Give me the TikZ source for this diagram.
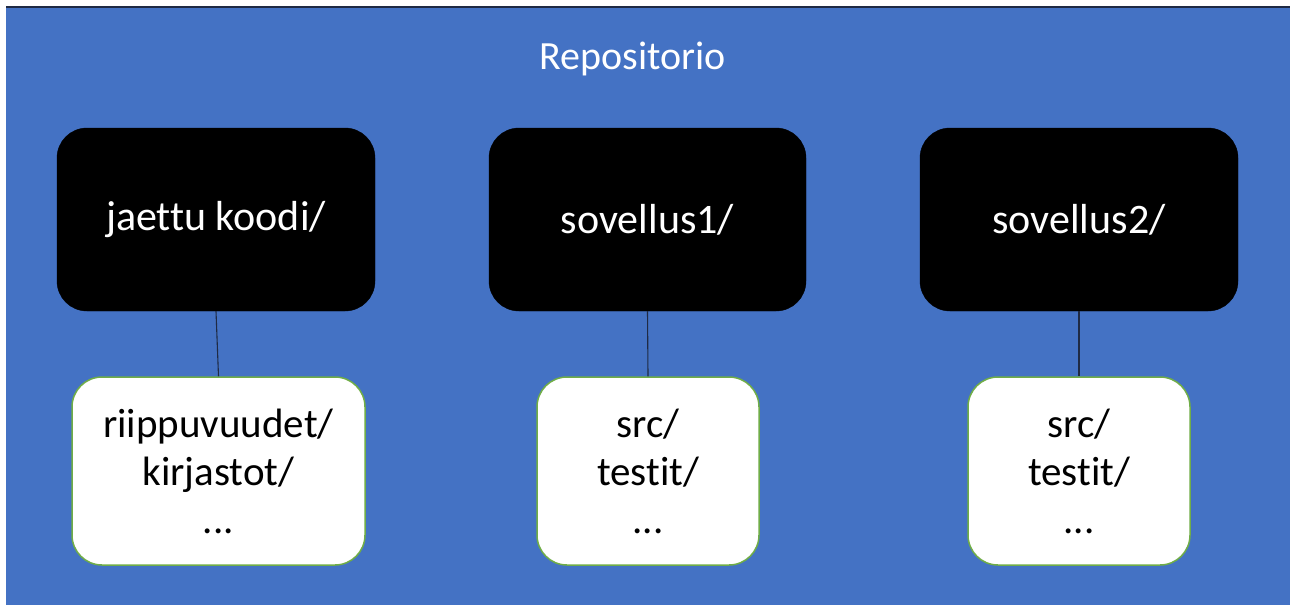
\documentclass[tikz,border=0pt]{standalone}
\usepackage{fontspec}
\setmainfont{Carlito}[Ligatures=NoCommon]
\definecolor{repoblue}{HTML}{4472C4}
\definecolor{edgegreen}{HTML}{70AD47}
\definecolor{linkdark}{HTML}{1F2A44}
\begin{document}
\begin{tikzpicture}[x=1pt,y=-1pt,
  folder/.style={draw=black,fill=black,rounded corners=30pt,text=white,
    minimum height=183pt,inner sep=0pt,font=\fontsize{42}{48}\selectfont},
  content/.style={draw=edgegreen,line width=1.5pt,fill=white,rounded corners=30pt,
    text=black,minimum height=188pt,inner sep=0pt,align=center,
    font=\fontsize{41}{48}\selectfont},
  link/.style={draw=linkdark,line width=1.1pt}]
  \useasboundingbox (0,0) rectangle (1290,605);
  % repository background
  \fill[repoblue] (6,7) rectangle (1290,605);
  \draw[linkdark,line width=1.2pt] (6,7) -- (1290,7);
  \node[text=white,font=\fontsize{40}{48}\selectfont] (title) at (633,59) {Repositorio};
  % top-level folders
  \node[folder,minimum width=318pt] (b1) at (216,219.5) {jaettu koodi/};
  \node[folder,minimum width=317pt] (b2) at (647.5,219.5) {sovellus1/};
  \node[folder,minimum width=318pt] (b3) at (1079,219.5) {sovellus2/};
  % folder contents
  \node[content,minimum width=293pt] (w1) at (218.5,471) {riippuvuudet/\\kirjastot/\\...};
  \node[content,minimum width=222pt] (w2) at (648,471) {src/\\testit/\\...};
  \node[content,minimum width=222pt] (w3) at (1079,471) {src/\\testit/\\...};
  % links
  \draw[link] (b1.south) -- (w1.north);
  \draw[link] (b2.south) -- (w2.north);
  \draw[link] (b3.south) -- (w3.north);
\end{tikzpicture}
\end{document}
